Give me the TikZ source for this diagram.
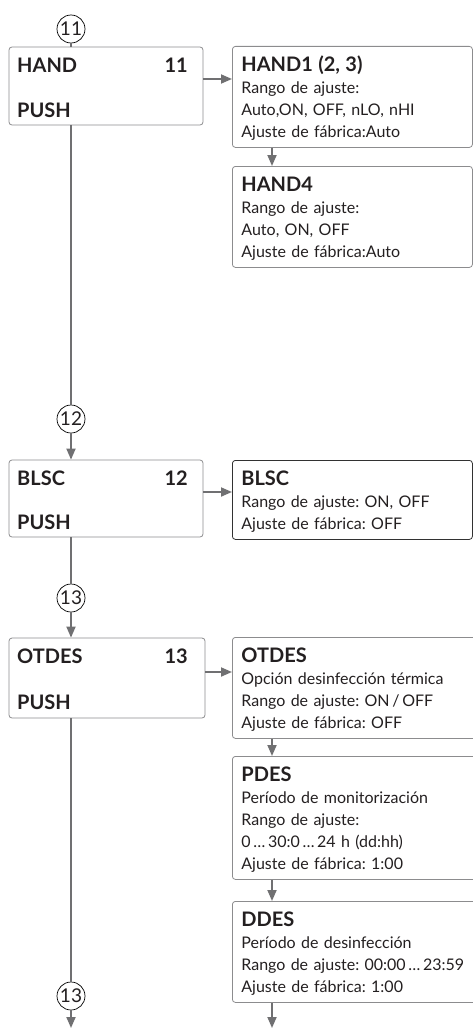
\documentclass[tikz,border=0pt]{standalone}
\usepackage{fontspec}
\setmainfont{Lato}
\usetikzlibrary{arrows.meta,positioning}
\definecolor{linegray}{RGB}{112,112,114}
\definecolor{boxgray}{RGB}{140,140,142}
\definecolor{boxdark}{RGB}{50,50,50}
\definecolor{textdark}{RGB}{35,31,32}
\newcommand{\menufont}{\fontsize{16}{22}\selectfont\frenchspacing}
\newcommand{\menutitle}[1]{{\fontsize{20}{22}\selectfont\bfseries #1}}

\begin{document}
\begin{tikzpicture}[x=1pt, y=-1pt,
    menubox/.style={draw=boxgray, line width=0.8pt, rounded corners=3pt,
                    minimum width=194pt, minimum height=78pt},
    menutext/.style={font=\fontsize{20}{22}\selectfont\bfseries, text=textdark, inner sep=0pt},
    infobox/.style={draw=boxgray, line width=0.8pt, rounded corners=3pt,
                    anchor=north west, align=left, text width=222pt,
                    inner xsep=9pt, inner ysep=6pt, font=\menufont, text=textdark,
                    execute at begin node={\rule{0pt}{19pt}},
                    execute at end node={\rule[-4pt]{0pt}{4pt}}},
    widebox/.style={infobox, text width=262pt},
    numcirc/.style={draw=black, circle, line width=0.7pt, minimum size=28pt,
                    inner sep=0pt, font=\fontsize{19}{19}\selectfont, text=textdark},
    conn/.style={draw=linegray, line width=1.8pt},
    arr/.style={conn, -{Triangle[length=11pt, width=9pt]}}
]
\useasboundingbox (0,0) rectangle (473,1033);

% HAND
\node[numcirc] (c11) at (71,29) {11};
\node[menubox] (hand) at (106,86) {};
\node[menutext, anchor=base west] (handT) at (17,72) {HAND};
\node[menutext, anchor=base east] (handN) at (188,72) {11};
\node[menutext, anchor=base west] (handP) at (17,117) {PUSH};
\node[infobox] (hand1) at (232,46) {\menutitle{HAND1 (2, 3)}\\Rango de ajuste:\\Auto,ON, OFF, nLO, nHI\\Ajuste de fábrica:Auto};
\node[infobox] (hand4) at (232,166) {\menutitle{HAND4}\\Rango de ajuste:\\Auto, ON, OFF\\Ajuste de fábrica:Auto};

% BLSC
\node[numcirc] (c12) at (71,419) {12};
\node[menubox, minimum height=77pt] (blsc) at (106,498.5) {};
\node[menutext, anchor=base west] (blscT) at (17,485) {BLSC};
\node[menutext, anchor=base east] (blscN) at (188,485) {12};
\node[menutext, anchor=base west] (blscP) at (17,529) {PUSH};
\node[infobox, draw=boxdark] (blsc1) at (232,460) {\menutitle{BLSC}\\Rango de ajuste: ON, OFF\\Ajuste de fábrica: OFF};

% OTDES
\node[numcirc] (c13) at (71,598) {13};
\node[menubox, minimum width=196pt, minimum height=80pt] (otdes) at (107,678) {};
\node[menutext, anchor=base west] (otdesT) at (17,663) {OTDES};
\node[menutext, anchor=base east] (otdesN) at (188,663) {13};
\node[menutext, anchor=base west] (otdesP) at (17,709) {PUSH};
\node[widebox] (otdes1) at (232,637) {\menutitle{OTDES}\\Opción desinfección térmica\\Rango de ajuste: ON\,/\,OFF\\Ajuste de fábrica: OFF};
\node[widebox] (pdes) at (232,756) {\menutitle{PDES}\\Período de monitorización\\Rango de ajuste:\\0\,\dots\,30:0\,\dots\,24 h (dd:hh)\\Ajuste de fábrica: 1:00};
\node[widebox] (ddes) at (232,901) {\menutitle{DDES}\\Período de desinfección\\Rango de ajuste: 00:00\,\dots\,23:59\\Ajuste de fábrica: 1:00};
\node[numcirc] (c13b) at (71,996) {13};
\coordinate (endL) at (71,1028);
\coordinate (endR) at (272,1028);

% connectors
\draw[conn] (c11) -- (c11 |- hand.north);
\draw[arr] (hand.east |- 0,79) -- (hand1.west |- 0,79);
\draw[arr] (hand1.south -| 272,0) -- (hand4.north -| 272,0);
\draw[conn] (hand.south -| c12) -- (c12);
\draw[arr] (c12) -- (c12 |- blsc.north);
\draw[arr] (blsc.east |- 0,492) -- (blsc1.west |- 0,492);
\draw[conn] (blsc.south -| c13) -- (c13);
\draw[arr] (c13) -- (c13 |- otdes.north);
\draw[arr] (otdes.east |- 0,672) -- (otdes1.west |- 0,672);
\draw[arr] (otdes1.south -| 272,0) -- (pdes.north -| 272,0);
\draw[arr] (pdes.south -| 272,0) -- (ddes.north -| 272,0);
\draw[conn] (otdes.south -| c13b) -- (c13b);
\draw[arr] (c13b) -- (endL);
\draw[arr] (ddes.south -| endR) -- (endR);
\end{tikzpicture}
\end{document}
